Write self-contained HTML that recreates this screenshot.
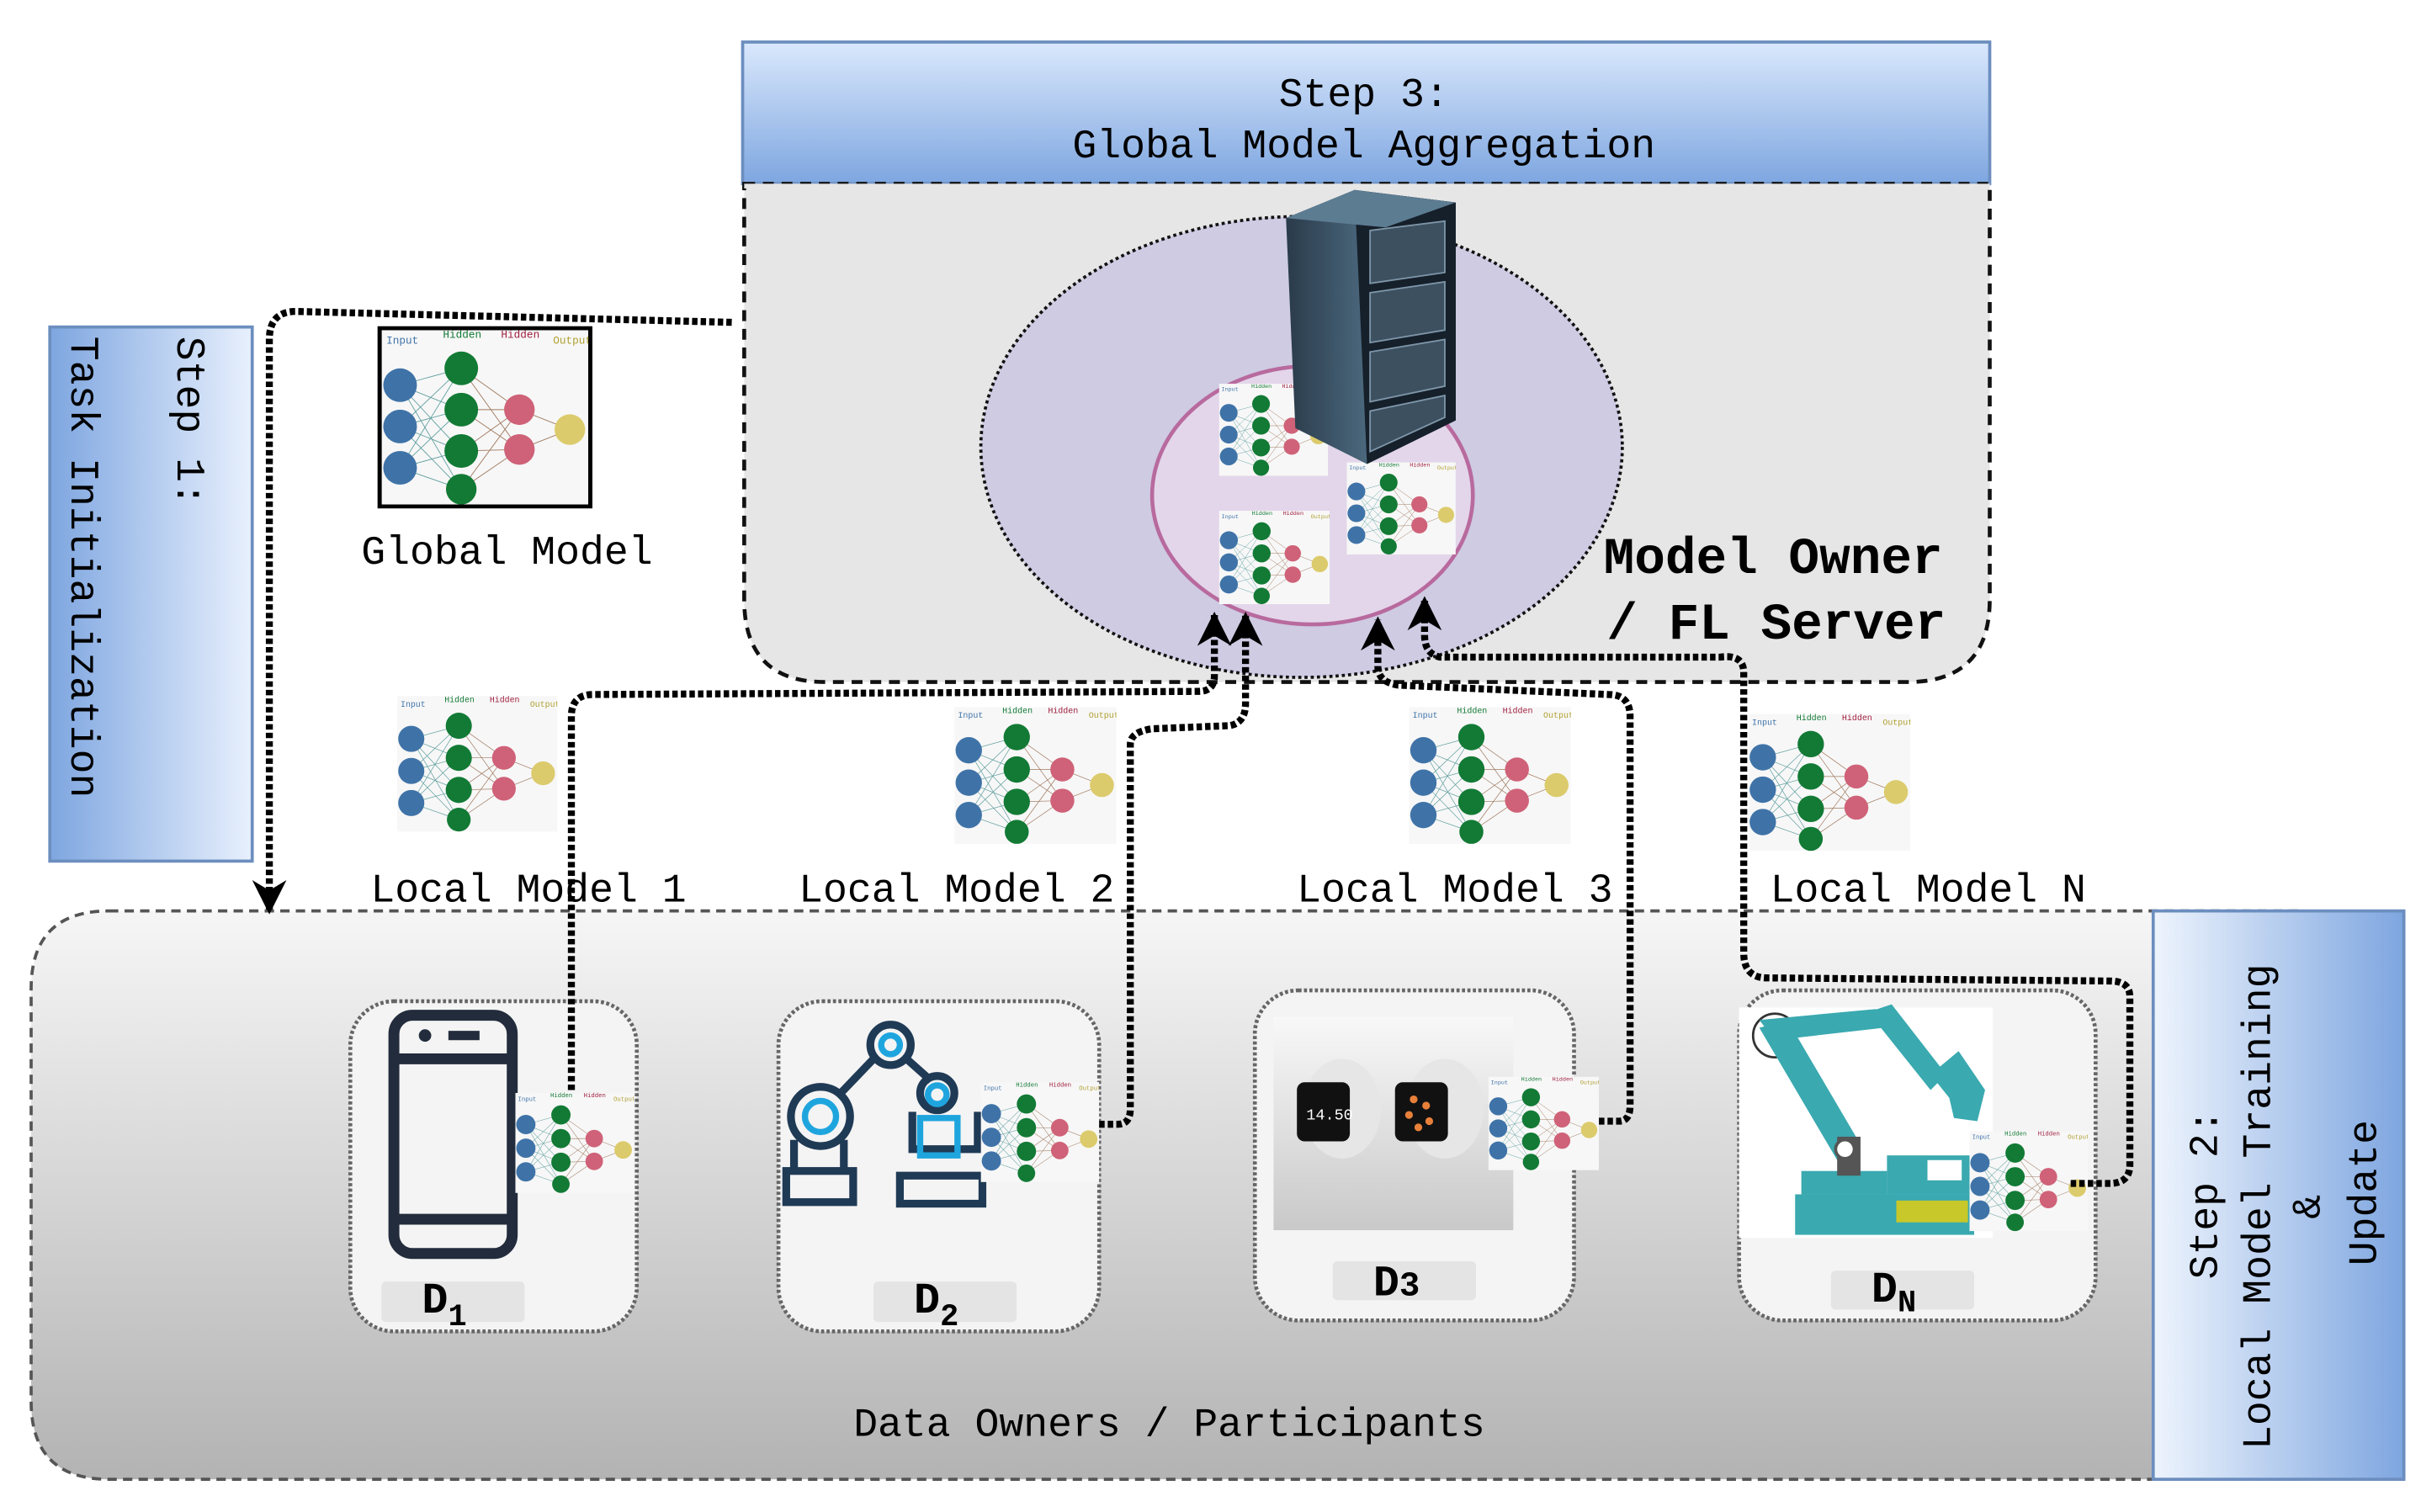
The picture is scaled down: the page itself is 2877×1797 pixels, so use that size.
<!DOCTYPE html>
<html><head><meta charset="utf-8"><style>
html,body{margin:0;padding:0;background:#fff;}
svg{display:block;}
text{font-family:"Liberation Mono","DejaVu Sans Mono",monospace;}
</style></head><body>
<svg width="2877" height="1797" viewBox="0 0 1555 971" preserveAspectRatio="none" xmlns="http://www.w3.org/2000/svg">
<defs>
<linearGradient id="gStep3" x1="0" y1="0" x2="0" y2="1"><stop offset="0" stop-color="#dae8fc"/><stop offset="1" stop-color="#7ea6e0"/></linearGradient>
<linearGradient id="gStep1" x1="0" y1="0" x2="1" y2="0"><stop offset="0" stop-color="#7ea6e0"/><stop offset="1" stop-color="#e8f0fd"/></linearGradient>
<linearGradient id="gStep2" x1="0" y1="0" x2="1" y2="0"><stop offset="0" stop-color="#eef4fd"/><stop offset="1" stop-color="#7ea6e0"/></linearGradient>
<linearGradient id="gBottom" x1="0" y1="0" x2="0" y2="1"><stop offset="0" stop-color="#f6f6f6"/><stop offset="1" stop-color="#b3b3b3"/></linearGradient>
<linearGradient id="gServer" x1="0" y1="0" x2="1" y2="0"><stop offset="0" stop-color="#2a3b4a"/><stop offset="0.5" stop-color="#4d6a80"/><stop offset="1" stop-color="#1b2630"/></linearGradient>
<linearGradient id="gWatch" x1="0" y1="0" x2="0" y2="1"><stop offset="0" stop-color="#f8f8f8"/><stop offset="1" stop-color="#c9c9c9"/></linearGradient>
<symbol id="nn" viewBox="0 0 135 114">
<rect x="0" y="0" width="135" height="114" fill="#f7f7f7"/>
<g stroke="#3c8a8a" stroke-width="0.5" opacity="0.8">
<path d="M12 36L52 25M12 36L52 52M12 36L52 79M12 36L52 104M12 63L52 25M12 63L52 52M12 63L52 79M12 63L52 104M12 90L52 25M12 90L52 52M12 90L52 79M12 90L52 104"/>
<path d="M52 25L90 52M52 25L90 78M52 52L90 52M52 52L90 78M52 79L90 52M52 79L90 78M52 104L90 52M52 104L90 78M90 52L123 65M90 78L123 65" stroke="#8a5a3a"/>
</g>
<g fill="#3f73a8"><circle cx="12" cy="36" r="11"/><circle cx="12" cy="63" r="11"/><circle cx="12" cy="90" r="11"/></g>
<g fill="#127a35"><circle cx="52" cy="25" r="11"/><circle cx="52" cy="52" r="11"/><circle cx="52" cy="79" r="11"/><circle cx="52" cy="104" r="10"/></g>
<g fill="#cf6278"><circle cx="90" cy="52" r="10"/><circle cx="90" cy="78" r="10"/></g>
<circle cx="123" cy="65" r="10" fill="#dccb6c"/>
<g font-size="7" font-family="Liberation Sans,sans-serif"><text x="3" y="9" fill="#3f73a8">Input</text><text x="40" y="5" fill="#127a35">Hidden</text><text x="78" y="5" fill="#a02040">Hidden</text><text x="112" y="9" fill="#b0a030">Output</text></g>
</symbol>
<marker id="arr" viewBox="0 0 20 20" refX="18" refY="10" markerWidth="22" markerHeight="22" markerUnits="userSpaceOnUse" orient="auto"><path d="M0 0 L20 10 L0 20 L6 10 Z" fill="#000"/></marker>
</defs>

<!-- Step 3 header -->
<rect x="477" y="27" width="801" height="91" fill="url(#gStep3)" stroke="#6c8ebf" stroke-width="2"/>
<text x="876" y="68" font-size="26" text-anchor="middle">Step 3:</text>
<text x="876" y="101" font-size="26" text-anchor="middle">Global Model Aggregation</text>

<!-- Server region -->
<path d="M478 118 L1278 118 L1278 385 Q1278 438 1225 438 L530 438 Q478 438 478 385 Z" fill="#e6e6e6" stroke="#111" stroke-width="2.5" stroke-dasharray="7 5"/>
<rect x="478" y="118" width="800" height="3" fill="#e6e6e6"/>

<ellipse cx="836" cy="287" rx="206" ry="148" fill="#cecbe3" stroke="#111" stroke-width="2" stroke-dasharray="2 2"/>
<ellipse cx="843" cy="318" rx="103" ry="83" fill="#e3d6ea" stroke="#b86a9e" stroke-width="2.5"/>
<use href="#nn" x="783" y="246" width="70" height="60"/>
<use href="#nn" x="865" y="296" width="70" height="61"/>
<use href="#nn" x="783" y="328" width="71" height="60"/>
<!-- server tower -->
<path d="M826 140 L870 122 L935 130 L935 270 L878 298 L832 275 Z" fill="url(#gServer)"/>
<path d="M870 122 L935 130 L935 270 L878 298 Z" fill="#16202a"/>
<g fill="#3c5060" stroke="#7d95a8" stroke-width="1">
<path d="M880 148 L928 142 L928 175 L880 182 Z"/><path d="M880 188 L928 181 L928 212 L880 220 Z"/><path d="M880 226 L928 218 L928 248 L880 258 Z"/><path d="M880 264 L928 254 L928 268 L880 290 Z"/>
</g>
<path d="M826 140 L870 122 L935 130 L890 146 Z" fill="#5c7c92"/>

<text x="1030" y="368" font-size="33" font-weight="bold">Model Owner</text>
<text x="1032" y="410" font-size="33" font-weight="bold">/ FL Server</text>

<!-- Step 1 -->
<rect x="32" y="210" width="130" height="343" fill="url(#gStep1)" stroke="#6c8ebf" stroke-width="2"/>
<text transform="translate(114,216) rotate(90)" font-size="26">Step 1:</text>
<text transform="translate(46,216) rotate(90)" font-size="26">Task Initialization</text>

<!-- Global model -->
<rect x="244" y="211" width="135" height="114" fill="#fff" stroke="#000" stroke-width="3"/>
<use href="#nn" x="245" y="212" width="133" height="112"/>
<text x="232" y="362" font-size="26">Global Model</text>

<!-- Bottom region -->
<path d="M70 585 L1480 585 L1480 950 L70 950 Q20 950 20 900 L20 635 Q20 585 70 585 Z" fill="url(#gBottom)" stroke="#555" stroke-width="2" stroke-dasharray="6 4"/>
<text x="751" y="922" font-size="26" text-anchor="middle">Data Owners / Participants</text>

<!-- Step 2 -->
<rect x="1383" y="585" width="161" height="365" fill="url(#gStep2)" stroke="#6c8ebf" stroke-width="2"/>
<g font-size="26" text-anchor="middle">
<text transform="translate(1424,767) rotate(-90)">Step 2:</text>
<text transform="translate(1458,775) rotate(-90)">Local Model Training</text>
<text transform="translate(1490,775) rotate(-90)">&amp;</text>
<text transform="translate(1526,766) rotate(-90)">Update</text>
</g>

<!-- Local models -->
<use href="#nn" x="255" y="446" width="103" height="89"/>
<use href="#nn" x="613" y="453" width="104" height="90"/>
<use href="#nn" x="905" y="453" width="104" height="90"/>
<use href="#nn" x="1123" y="458" width="104" height="89"/>
<g font-size="26"><text x="238" y="579">Local Model 1</text><text x="513" y="579">Local Model 2</text><text x="833" y="579">Local Model 3</text><text x="1137" y="579">Local Model N</text></g>

<!-- Device boxes -->
<g fill="#f4f4f4" stroke="#666" stroke-width="2.5" stroke-dasharray="2 1.5">
<rect x="225" y="643" width="184" height="212" rx="28"/>
<rect x="500" y="643" width="206" height="212" rx="28"/>
<rect x="806" y="636" width="205" height="212" rx="28"/>
<rect x="1117" y="636" width="229" height="212" rx="28"/>
</g>
<g fill="#e4e4e4"><rect x="245" y="823" width="92" height="26" rx="3"/><rect x="561" y="823" width="92" height="26" rx="3"/><rect x="856" y="810" width="92" height="25" rx="3"/><rect x="1176" y="816" width="92" height="25" rx="3"/></g>
<g font-size="28" font-weight="bold" font-family="Liberation Mono,monospace">
<text x="271" y="843">D<tspan font-size="20" dy="8">1</tspan></text>
<text x="587" y="843">D<tspan font-size="20" dy="8">2</tspan></text>
<text x="882" y="832">D<tspan font-size="22">3</tspan></text>
<text x="1202" y="836">D<tspan font-size="20" dy="6">N</tspan></text>
</g>

<!-- D1 phone -->
<rect x="253" y="652" width="76" height="153" rx="12" fill="none" stroke="#222c3c" stroke-width="7"/>
<line x1="253" y1="680" x2="329" y2="680" stroke="#222c3c" stroke-width="7"/>
<line x1="253" y1="783" x2="329" y2="783" stroke="#222c3c" stroke-width="7"/>
<circle cx="273" cy="665" r="4" fill="#222c3c"/><rect x="288" y="662" width="20" height="6" fill="#222c3c"/>
<use href="#nn" x="331" y="694" width="76" height="80"/>

<!-- D2 robot -->
<g fill="none" stroke="#1f3a55" stroke-width="5">
<circle cx="527" cy="717" r="19"/><circle cx="572" cy="671" r="13"/><circle cx="602" cy="702" r="11"/>
<path d="M540 702 L563 678 M580 678 L598 694"/>
<path d="M586 714 L586 738 L628 738 L628 714"/>
<rect x="505" y="752" width="43" height="20"/><rect x="578" y="755" width="53" height="18"/>
<path d="M510 732 L510 752 M542 732 L542 752"/>
</g>
<g fill="none" stroke="#1fa5de" stroke-width="4"><circle cx="527" cy="717" r="10"/><circle cx="572" cy="671" r="6"/><circle cx="602" cy="703" r="6"/><rect x="591" y="718" width="24" height="24"/></g>
<use href="#nn" x="630" y="692" width="76" height="70"/>

<!-- D3 watches -->
<rect x="818" y="653" width="154" height="137" fill="url(#gWatch)"/>
<ellipse cx="862" cy="712" rx="25" ry="32" fill="#e6e6e6"/><ellipse cx="928" cy="712" rx="25" ry="32" fill="#e6e6e6"/>
<rect x="833" y="695" width="34" height="38" rx="5" fill="#111"/><rect x="896" y="695" width="34" height="38" rx="5" fill="#111"/>
<text x="839" y="719" font-size="10" fill="#fff" font-family="Liberation Sans,sans-serif">14.50</text>
<g fill="#e8803a"><circle cx="908" cy="706" r="2.5"/><circle cx="916" cy="710" r="2.5"/><circle cx="905" cy="716" r="2.5"/><circle cx="918" cy="720" r="2.5"/><circle cx="911" cy="724" r="2.5"/></g>
<use href="#nn" x="956" y="690" width="71" height="63"/>

<!-- DN industrial robot -->
<rect x="1117" y="647" width="163" height="148" fill="#fff"/>
<circle cx="1140" cy="665" r="14" fill="none" stroke="#333" stroke-width="1.5"/>
<g fill="#3aa9b0"><path d="M1130 655 L1205 648 L1210 660 L1140 668 Z"/><path d="M1130 660 L1148 655 L1195 735 L1180 745 Z"/><path d="M1200 650 L1215 645 L1250 690 L1240 700 Z"/><path d="M1240 690 L1258 675 L1275 700 L1270 720 L1255 718 L1252 705 Z"/>
<rect x="1153" y="767" width="115" height="26"/><rect x="1157" y="752" width="55" height="15"/><rect x="1212" y="742" width="56" height="25"/></g>
<rect x="1180" y="730" width="15" height="25" fill="#555"/>
<rect x="1218" y="771" width="46" height="14" fill="#c8c82a"/>
<rect x="1238" y="745" width="22" height="13" fill="#fff"/>
<circle cx="1185" cy="738" r="6" fill="#fff" stroke="#555" stroke-width="2"/>
<use href="#nn" x="1265" y="725" width="76" height="67"/>

<!-- connectors -->
<g fill="none" stroke="#000" stroke-width="4.5" stroke-dasharray="3.5 2">
<path d="M470 207 L190 200 Q173 200 173 218 L173 585" marker-end="url(#arr)"/>
<path d="M367 700 L367 460 Q367 446 381 446 L770 444 Q780 444 780 434 L780 395" marker-end="url(#arr)"/>
<path d="M706 722 L718 722 Q726 722 726 712 L726 478 Q726 470 740 468 L790 466 Q800 464 800 452 L800 395" marker-end="url(#arr)"/>
<path d="M1027 720 L1040 720 Q1047 720 1047 710 L1047 460 Q1047 446 1033 446 L898 440 Q885 438 885 428 L885 398" marker-end="url(#arr)"/>
<path d="M1330 760 L1355 760 Q1368 760 1368 748 L1368 640 Q1368 630 1355 630 L1135 628 Q1120 628 1120 612 L1120 432 Q1120 420 1105 422 L925 422 Q915 420 915 408 L915 385" marker-end="url(#arr)"/>
</g>
</svg>
</body></html>
